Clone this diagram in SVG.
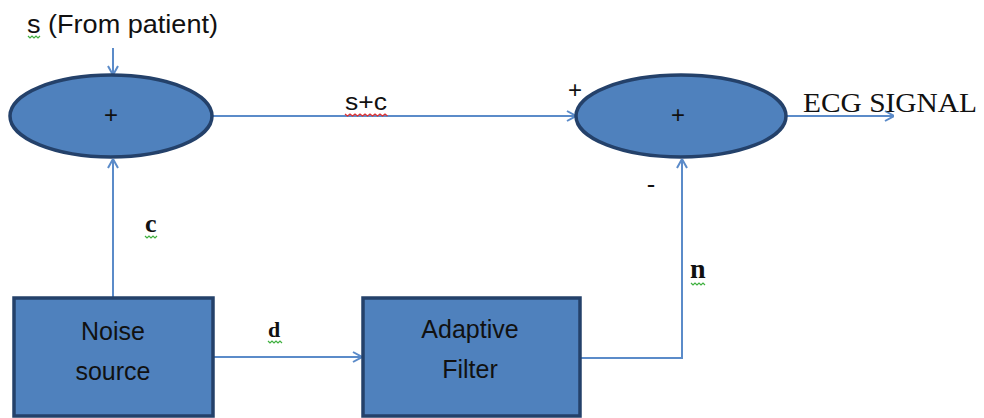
<svg xmlns="http://www.w3.org/2000/svg" width="984" height="418" viewBox="0 0 984 418">
<style>
.shape{fill:#4f81bd;stroke:#24416a;stroke-width:3.5}
.line{fill:none;stroke:#5b8bc9;stroke-width:2}
.sans{font-family:"Liberation Sans",Arial,sans-serif;fill:#111}
.serif{font-family:"Liberation Serif","Times New Roman",serif;fill:#111}
.sqg{fill:none;stroke:#3fb03f;stroke-width:1.2}
.sqr{fill:none;stroke:#e03030;stroke-width:1.2}
</style>
<defs>
<marker id="arr" viewBox="0 0 10 12" refX="10" refY="6" markerWidth="10" markerHeight="12" markerUnits="userSpaceOnUse" orient="auto">
<path d="M1,1 L10,6 L1,11" fill="none" stroke="#5b8bc9" stroke-width="2"/>
</marker>
</defs>
<rect width="984" height="418" fill="#fff"/>
<g id="connectors">
<line class="line" x1="113" y1="48" x2="113" y2="75" marker-end="url(#arr)"/>
<line class="line" x1="113" y1="297" x2="113" y2="159" marker-end="url(#arr)"/>
<line class="line" x1="212" y1="116" x2="576" y2="116" marker-end="url(#arr)"/>
<line class="line" x1="787" y1="116" x2="894" y2="116" marker-end="url(#arr)"/>
<line class="line" x1="213" y1="357" x2="362" y2="357" marker-end="url(#arr)"/>
<polyline class="line" points="580,358 682,358 682,159" marker-end="url(#arr)"/>
</g>
<g id="labels">
<text class="sans" x="27" y="33" font-size="25" textLength="191" lengthAdjust="spacingAndGlyphs">s (From patient)</text>
<path class="sqg" d="M28,36 l2,2 l2,-2 l2,2 l2,-2 l2,2 l2,-2"/>
<text class="sans" x="345" y="110" font-size="23" textLength="42" lengthAdjust="spacingAndGlyphs">s+c</text>
<path class="sqr" d="M345,114 l2.5,2 l2.5,-2 l2.5,2 l2.5,-2 l2.5,2 l2.5,-2 l2.5,2 l2.5,-2 l2.5,2 l2.5,-2 l2.5,2 l2.5,-2 l2.5,2 l2.5,-2 l2.5,2 l2.5,-2 l2.5,2"/>
<text class="sans" x="575" y="98" font-size="24" text-anchor="middle">+</text>
<text class="serif" x="651" y="192" font-size="24" text-anchor="middle" font-weight="bold">-</text>
<text class="serif" x="803" y="112" font-size="28" textLength="174" lengthAdjust="spacingAndGlyphs">ECG SIGNAL</text>
<text class="serif" x="145" y="232" font-size="26" font-weight="bold">c</text>
<path class="sqg" d="M145,236 l2,2 l2,-2 l2,2 l2,-2 l2,2 l2,-2"/>
<text class="serif" x="268" y="337" font-size="22" font-weight="bold">d</text>
<path class="sqg" d="M268,341 l2,2 l2,-2 l2,2 l2,-2 l2,2 l2,-2 l2,2"/>
<text class="serif" x="690" y="278" font-size="28" font-weight="bold">n</text>
<path class="sqg" d="M691,283 l2,2 l2,-2 l2,2 l2,-2 l2,2 l2,-2 l2,2"/>
</g>
<g id="sum1">
<ellipse class="shape" cx="111" cy="116" rx="101" ry="41"/>
<text class="sans" x="111" y="123" font-size="24" text-anchor="middle">+</text>
</g>
<g id="sum2">
<ellipse class="shape" cx="681" cy="116" rx="105" ry="41"/>
<text class="sans" x="678" y="123" font-size="24" text-anchor="middle">+</text>
</g>
<g id="noise">
<rect class="shape" x="14" y="298" width="199" height="118"/>
<text class="sans" x="113" y="340" font-size="25" text-anchor="middle">Noise</text>
<text class="sans" x="113" y="380" font-size="25" text-anchor="middle">source</text>
</g>
<g id="filter">
<rect class="shape" x="363" y="298" width="217" height="118"/>
<text class="sans" x="470" y="338" font-size="25" text-anchor="middle">Adaptive</text>
<text class="sans" x="470" y="378" font-size="25" text-anchor="middle">Filter</text>
</g>
</svg>
